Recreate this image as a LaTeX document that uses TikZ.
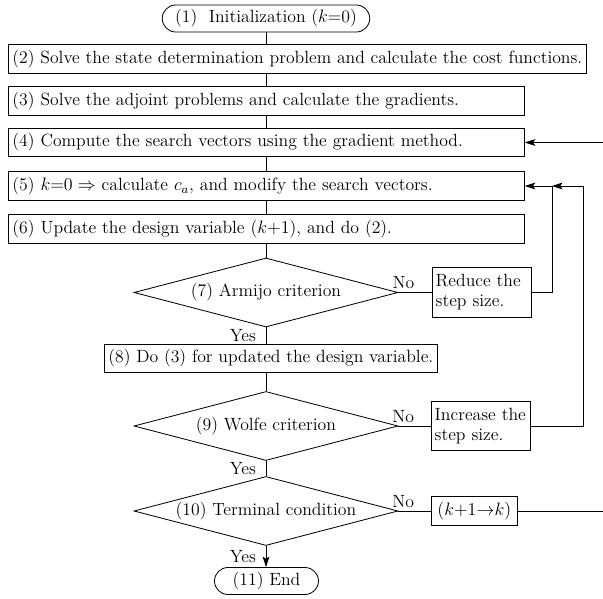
\documentclass[tikz,border=0pt]{standalone}
\usetikzlibrary{shapes.geometric,shapes.misc,arrows.meta}
\begin{document}
\begin{tikzpicture}[x=0.6667pt,y=-0.6667pt,
  font=\fontsize{11.8}{13.4}\selectfont,
  box/.style={draw, line width=0.55pt, inner xsep=2.7pt, inner ysep=0pt, minimum height=19pt, align=left},
  wide/.style={box, anchor=west, text width=338.6pt},
  term/.style={draw, rounded rectangle, line width=0.55pt, minimum height=18pt, inner ysep=0pt},
  decision/.style={draw, diamond, aspect=3.8, minimum width=176pt, minimum height=46pt, inner sep=0pt, line width=0.55pt},
  side/.style={draw, line width=0.55pt, inner xsep=2.2pt, inner ysep=4.5pt, text width=61.6pt, align=left, anchor=west},
  flow/.style={line width=0.55pt},
  arrow/.style={flow, -{Stealth[length=7pt,width=4.5pt,inset=1.5pt]}},
  lbl/.style={inner sep=2pt},
  yes/.style={lbl, left, xshift=-4.5pt}
]
\useasboundingbox (0,0) rectangle (603,599);

% main column
\node[term, minimum width=145pt] (n1) at (266,18.5) {(1)\ \ Initialization ($k$=0)};
\node[box, anchor=west] (n2) at (8,59) {(2) Solve the state determination problem and calculate the cost functions.};
\node[wide] (n3) at (8,101) {(3) Solve the adjoint problems and calculate the gradients.};
\node[wide] (n4) at (8,142.5) {(4) Compute the search vectors using the gradient method.};
\node[wide] (n5) at (8,186) {(5) $k{=}0 \Rightarrow$ calculate $c_a$, and modify the search vectors.};
\node[wide] (n6) at (8,229) {(6) Update the design variable ($k{+}1$), and do (2).};
\node[decision] (d7) at (266,292.5) {(7) Armijo criterion};
\node[side] (r7) at (432,292.5) {Reduce the\\step size.};
\node[box, anchor=west] (n8) at (104,358.5) {(8) Do (3) for updated the design variable.};
\node[decision] (d9) at (266,426) {(9) Wolfe criterion};
\node[side] (r9) at (431,426) {Increase the\\step size.};
\node[decision] (d10) at (266,511) {(10) Terminal condition};
\node[box, anchor=west, inner xsep=4pt] (r10) at (431,511) {$(k{+}1{\to}k)$};
\node[term, minimum width=76pt] (n11) at (266.5,581) {(11) End};

% guide coordinates for the vertical axis and the return loops
\coordinate (ax) at (266,0);
\coordinate (rA) at (552,0);
\coordinate (rB) at (583,0);
\coordinate (off) at (612,0);

% vertical flow
\draw[flow] (n1.south) -- (ax |- n2.north);
\draw[flow] (ax |- n2.south) -- (ax |- n3.north);
\draw[flow] (ax |- n3.south) -- (ax |- n4.north);
\draw[flow] (ax |- n4.south) -- (ax |- n5.north);
\draw[flow] (ax |- n5.south) -- (ax |- n6.north);
\draw[flow] (ax |- n6.south) -- (d7.north);
\draw[flow] (d7.south) -- node[yes]{Yes} (ax |- n8.north);
\draw[flow] (ax |- n8.south) -- (d9.north);
\draw[flow] (d9.south) -- node[yes]{Yes} (d10.north);
\draw[arrow] (d10.south) -- node[yes]{Yes} (ax |- n11.north);

% branches
\draw[flow] (d7.east) -- node[lbl, above, pos=0.15]{No} (r7.west);
\draw[flow] (d9.east) -- node[lbl, above, pos=0.15]{No} (r9.west);
\draw[flow] (d10.east) -- node[lbl, above, pos=0.15]{No} (r10.west);

% return loops
\draw[arrow] (r7.east) -- (r7.east -| rA) |- (n5.east);
\draw[arrow] (r9.east) -- (r9.east -| rB) |- (n5.east -| rA);
\draw[flow] (r10.east) -- (r10.east -| off);
\draw[arrow] (n4.east -| off) -- (n4.east);
\end{tikzpicture}
\end{document}
